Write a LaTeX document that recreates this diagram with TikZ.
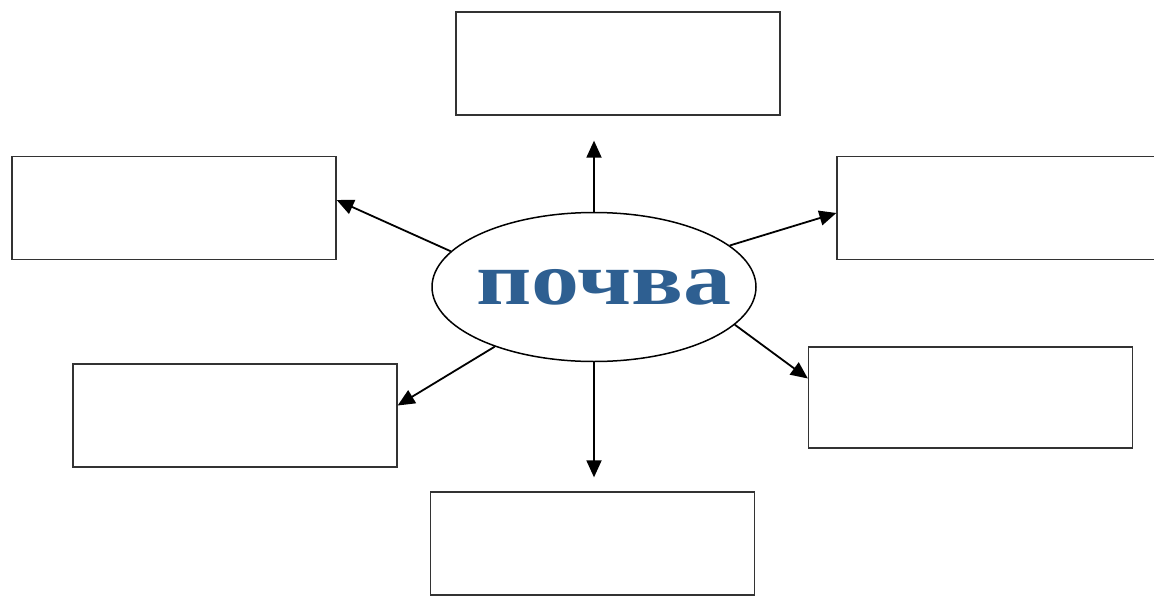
\documentclass[tikz,border=0pt]{standalone}
\usepackage{fontspec}
\usetikzlibrary{shapes.geometric, arrows.meta}
\newfontfamily\pochvafont{Liberation Serif}
\definecolor{soilblue}{RGB}{46,95,145}

\begin{document}
\begin{tikzpicture}[x=1pt, y=-1pt,
    box/.style={draw=black!80, line width=1.3pt, minimum width=324pt, minimum height=103pt, inner sep=0pt},
    arr/.style={line width=1.8pt, -{Triangle[length=17pt, width=15pt]}}]
    \useasboundingbox (0,0) rectangle (1154,597);

    % centre word
    \node[ellipse, draw, line width=1.5pt, minimum width=324pt, minimum height=149pt, inner sep=0pt,
          font=\pochvafont\bfseries\fontsize{80}{80}\selectfont, text=soilblue] (pochva) at (594,287)
          {\makebox[0pt]{\hspace*{20pt}\scalebox{1.2}[0.93]{почва}}};

    % empty boxes round it
    \node[box] (top) at (618,63.5) {};
    \node[box] (lu) at (174,208) {};
    \node[box, minimum width=318pt] (ru) at (996,208) {};
    \node[box] (ll) at (235,415.5) {};
    \node[box, minimum height=101pt] (rl) at (970.5,397.5) {};
    \node[box] (bot) at (592.5,543.5) {};

    % arrows out of the ellipse
    \draw[arr] (pochva.north -| 594,0) -- ([yshift=-25pt]top.south -| 594,0);
    \draw[arr] (pochva.south -| 594,0) -- ([yshift=14pt]bot.north -| 594,0);
    \draw[arr] (pochva.166) -- ([yshift=8pt]lu.east);
    \draw[arr] (pochva.17) -- ([yshift=-5pt]ru.west);
    \draw[arr] (pochva.211) -- ([yshift=10pt]ll.east);
    \draw[arr] (pochva.345) -- ([yshift=19pt]rl.west);
\end{tikzpicture}
\end{document}
